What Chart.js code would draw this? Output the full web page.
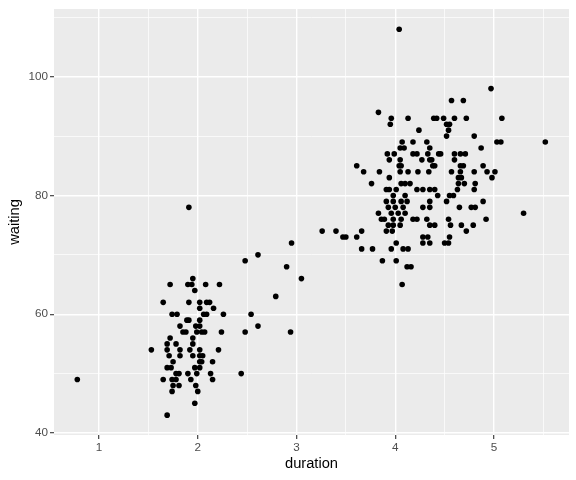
<!DOCTYPE html>
<html>
<head>
<meta charset="utf-8">
<script src="https://cdn.jsdelivr.net/npm/chart.js@4"></script>
<style>
html,body{margin:0;padding:0;background:#fff;}
canvas{display:block;}
</style>
</head>
<body>
<canvas id="c" width="576" height="480"></canvas>
<script>
const duration = [
1.95,1.72,1.90,1.94,2.08,1.97,1.65,1.91,2.02,2.09,2.02,1.74,1.79,2.06,2.09,1.89,1.91,2.02,1.82,1.98,
2.02,1.85,1.88,1.99,2.04,2.07,1.72,1.95,2.61,2.48,2.22,2.12,2.16,2.26,2.54,2.61,2.24,2.48,2.02,2.21,
2.02,2.04,2.15,2.02,2.13,2.44,2.15,1.53,1.69,1.78,1.95,1.69,1.82,1.92,1.71,1.82,1.95,2.05,1.75,2.02,
1.69,1.73,1.97,1.78,1.81,1.90,1.99,1.65,1.74,1.78,1.93,1.75,1.81,1.98,1.74,2.00,1.97,1.69,0.78,1.91,
2.79,2.90,2.95,3.05,2.94,3.26,3.40,3.47,3.50,3.61,3.66,
3.83,3.96,3.95,4.13,4.07,4.05,4.09,3.92,3.99,3.94,4.05,3.61,4.04,4.06,3.68,3.84,4.05,4.13,3.94,3.76,
4.06,4.10,3.91,3.94,4.01,
3.66,3.77,3.96,4.08,4.13,3.87,4.01,4.12,4.07,4.01,3.98,4.10,3.91,3.98,4.06,4.12,3.93,4.00,4.08,3.83,
3.96,4.03,4.10,3.86,3.89,3.98,4.06,3.93,3.98,4.05,3.91,3.97,
4.57,4.69,4.39,4.42,4.49,4.60,4.72,4.52,4.55,4.24,4.54,4.52,4.80,4.18,4.32,4.35,4.18,4.22,4.33,4.44,
4.46,4.60,4.66,4.71,4.27,4.37,4.60,
4.35,4.38,4.40,4.66,4.69,4.23,4.34,4.57,4.66,4.64,4.67,4.15,4.64,4.70,4.22,4.28,4.35,4.40,4.63,4.43,
4.55,4.59,4.35,4.52,4.28,4.35,4.65,4.18,4.22,4.32,4.54,
4.35,4.40,4.56,4.67,4.79,4.72,4.28,4.33,4.55,4.28,4.35,4.50,4.54,4.16,
4.97,5.08,4.87,5.03,5.07,5.52,
4.89,4.80,4.93,5.01,4.98,4.81,4.80,4.89,4.77,4.81,4.92,5.30,
4.04
];
const waiting = [
66,65,65,65,65,64,62,62,62,62,61,60,60,60,60,59,59,59,58,58,
58,57,57,57,57,57,56,56,70,69,65,62,61,60,60,58,57,57,54,54,
53,52,52,51,50,50,49,54,55,55,55,54,54,54,53,53,53,53,52,52,
51,51,51,50,50,50,50,49,49,49,49,48,48,48,47,47,45,43,49,78,
63,68,72,66,57,74,74,73,73,73,74,
94,93,92,93,89,88,88,87,87,86,86,85,85,85,84,84,84,84,83,82,
82,82,81,81,81,
71,71,71,71,71,69,69,68,65,72,80,80,79,79,79,79,78,78,78,77,
77,77,77,76,76,76,76,75,75,75,74,74,
96,96,93,93,93,93,93,92,92,91,91,90,90,89,89,88,87,87,87,87,
87,87,87,87,86,86,86,
86,85,85,85,85,84,84,84,84,83,83,82,82,82,81,81,81,81,81,80,
80,80,79,79,78,78,78,76,76,76,76,
75,75,75,75,75,74,73,73,73,72,72,72,72,68,
98,93,88,89,89,89,
85,84,84,84,83,82,81,79,78,78,76,77,
108
];
const xTicks = [1, 1.5, 2, 2.5, 3, 3.5, 4, 4.5, 5, 5.5];
const yTicks = [40, 50, 60, 70, 80, 90, 100, 110];
const xLabels = [1, 2, 3, 4, 5];
const yLabels = [40, 60, 80, 100];

const FONT = "'Liberation Sans', Arial, sans-serif";

const bg = {
  id: 'bg',
  beforeDraw(c) {
    const {ctx, chartArea: a} = c;
    ctx.save();
    ctx.fillStyle = '#ffffff';
    ctx.fillRect(0, 0, c.width, c.height);
    ctx.fillStyle = '#EBEBEB';
    ctx.fillRect(a.left, a.top, a.right - a.left, a.bottom - a.top);
    ctx.restore();
  }
};

function axis(ticksArr, labels, min, max, titleText, isX) {
  return {
    type: 'linear',
    min: min, max: max,
    afterBuildTicks: s => { s.ticks = ticksArr.map(v => ({value: v})); },
    afterFit: s => { if (isX) s.height = 45; else s.width = 54; },
    border: {display: false},
    grid: {
      color: '#ffffff',
      lineWidth: ctx => (ctx.tick && labels.includes(ctx.tick.value)) ? 1.4 : 0.7,
      tickColor: ctx => (ctx.tick && labels.includes(ctx.tick.value)) ? '#333333' : 'rgba(0,0,0,0)',
      tickLength: 4,
      tickWidth: 1.1
    },
    ticks: {
      autoSkip: false,
      maxRotation: 0,
      padding: 2,
      color: '#4D4D4D',
      font: {family: FONT, size: 11.7},
      callback: v => labels.includes(v) ? String(v) : ''
    },
    title: {
      display: true,
      text: titleText,
      color: '#000000',
      font: {family: FONT, size: 14.7},
      padding: isX ? {top: 0, bottom: 7} : {top: 6, bottom: 0}
    }
  };
}

new Chart(document.getElementById('c'), {
  type: 'scatter',
  data: {
    datasets: [{
      data: duration.map((d, i) => ({x: d, y: waiting[i]})),
      backgroundColor: '#000000',
      borderWidth: 0,
      pointRadius: 2.8,
      pointHoverRadius: 2.8
    }]
  },
  options: {
    responsive: false,
    animation: false,
    layout: {padding: {top: 7, right: 7, left: 0, bottom: 0}},
    plugins: {legend: {display: false}, tooltip: {enabled: false}},
    scales: {
      x: axis(xTicks, xLabels, 0.544, 5.76, 'duration', true),
      y: axis(yTicks, yLabels, 39.66, 111.4, 'waiting', false)
    }
  },
  plugins: [bg]
});
</script>
</body>
</html>
